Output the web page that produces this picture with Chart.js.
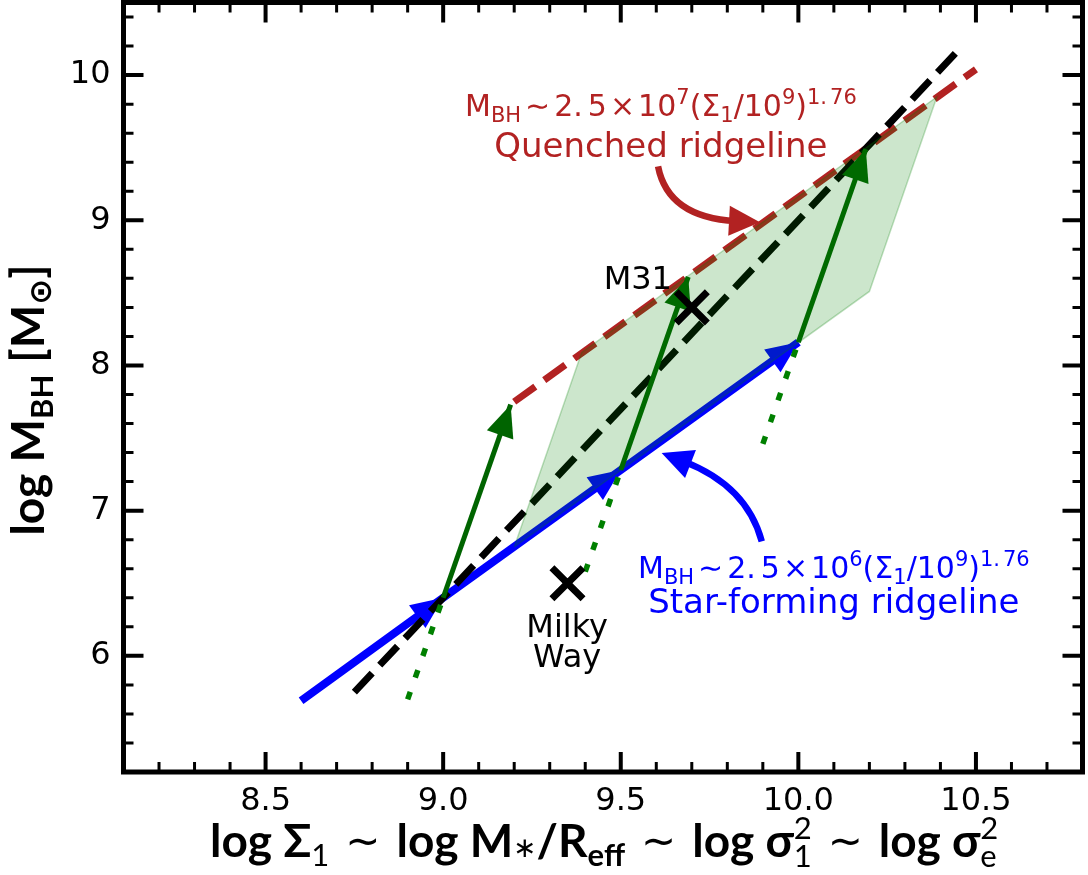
<!DOCTYPE html>
<html>
<head>
<meta charset="utf-8">
<script src="https://cdn.jsdelivr.net/npm/chart.js@4.4.1/dist/chart.umd.min.js"></script>
<style>
  html, body { margin: 0; padding: 0; background: #fff; }
  canvas { display: block; }
</style>
</head>
<body>
<canvas id="chart" width="1088" height="875"></canvas>
<script>
// log M_BH against log Sigma_1 ridgelines
const starFormingX = [8.6, 9.0, 9.5, 10.0];
const starFormingY = [5.69, 6.40, 7.28, 8.16];
const quenchedX = [9.2, 10.5];
const quenchedY = [7.75, 10.04];
const sigmaRelX = [8.75, 10.45];
const sigmaRelY = [5.75, 10.17];

// tracks from the star-forming ridge up to the quenched ridge
const trackTailX = [8.9, 9.4, 9.9];
const trackTailY = [5.70, 6.58, 7.46];
const trackStartX = [9.0, 9.5, 10.0];
const trackStartY = [6.40, 7.28, 8.16];
const trackEndX = [9.19, 9.69, 10.19];
const trackEndY = [7.73, 8.61, 9.49];

// band swept by the tracks
const bandX = [9.2, 10.2, 10.39, 9.39];
const bandY = [6.75, 8.51, 9.85, 8.09];

const galaxyNames = [['Milky', 'Way'], ['M31']];
const galaxyX = [9.35, 9.7];
const galaxyY = [6.5, 8.4];

const xTickValues = [8.5, 9.0, 9.5, 10.0, 10.5];
const yTickValues = [6, 7, 8, 9, 10];

const RED = '#b22222';
const BLUE = '#0000ff';
const DKGREEN = '#006400';
const GREEN = '#008000';

function pts(xs, ys) {
  return xs.map((x, i) => ({ x: x, y: ys[i] }));
}

function lineSet(data, color, width, dash, order, extra) {
  return Object.assign({
    data: data,
    showLine: true,
    borderColor: color,
    backgroundColor: color,
    borderWidth: width,
    borderDash: dash || [],
    borderCapStyle: 'butt',
    pointRadius: 0,
    pointHoverRadius: 0,
    fill: false,
    order: order
  }, extra || {});
}

// draw a run of text pieces (sub/superscripts, gaps) on one baseline
function drawRich(ctx, parts, x, y, align) {
  let w = 0;
  const widths = parts.map(p => {
    let pw;
    if (p.gap) {
      pw = p.gap;
    } else if (p.stack) {
      ctx.font = p.f;
      pw = Math.max(ctx.measureText(p.stack[0]).width, ctx.measureText(p.stack[1]).width);
    } else {
      ctx.font = p.f;
      pw = ctx.measureText(p.t).width;
    }
    w += pw;
    return pw;
  });
  let cx = align === 'center' ? x - w / 2 : (align === 'right' ? x - w : x);
  ctx.textAlign = 'left';
  ctx.textBaseline = 'alphabetic';
  parts.forEach((p, i) => {
    if (p.stack) {
      ctx.font = p.f;
      ctx.fillText(p.stack[0], cx, y + p.up);
      ctx.fillText(p.stack[1], cx, y + p.down);
    } else if (p.t) {
      ctx.font = p.f;
      ctx.fillText(p.t, cx, y + (p.dy || 0));
    }
    cx += widths[i];
  });
}

function ridgeFormula(exp) {
  const N = '30px "DejaVu Sans"';
  const S = '21px "DejaVu Sans"';
  return [
    { t: 'M', f: N }, { t: 'BH', f: S, dy: 6 }, { gap: 4 },
    { t: '\u223c', f: N }, { gap: 4 },
    { t: '2.', f: N }, { gap: 5 }, { t: '5', f: N }, { gap: 3 },
    { t: '\u00d7', f: N }, { gap: 3 },
    { t: '10', f: N }, { t: exp, f: S, dy: -12 },
    { t: '(\u03a3', f: N }, { t: '1', f: S, dy: 6 },
    { t: '/10', f: N }, { t: '9', f: S, dy: -12 },
    { t: ')', f: N }, { t: '1.', f: S, dy: -12 }, { gap: 3 }, { t: '76', f: S, dy: -12 }
  ];
}

function arrowHead(ctx, tipX, tipY, dirX, dirY, len, half, color) {
  const d = Math.hypot(dirX, dirY);
  const ux = dirX / d, uy = dirY / d;
  const bx = tipX - ux * len, by = tipY - uy * len;
  ctx.fillStyle = color;
  ctx.beginPath();
  ctx.moveTo(tipX, tipY);
  ctx.lineTo(bx - uy * half, by + ux * half);
  ctx.lineTo(bx + uy * half, by - ux * half);
  ctx.closePath();
  ctx.fill();
}

// arrowheads on line datasets, drawn right after their line
const headsPlugin = {
  id: 'heads',
  afterDatasetDraw(chart, args) {
    const ds = chart.data.datasets[args.index];
    if (!ds.headAt) return;
    const ctx = chart.ctx;
    const pts = args.meta.data;
    ctx.save();
    ds.headAt.forEach(i => {
      const p = pts[i], q = pts[i - 1];
      arrowHead(ctx, p.x, p.y, p.x - q.x, p.y - q.y, 32, 14, ds.borderColor);
    });
    ctx.restore();
  }
};

// frame, inward ticks, axis titles and annotations
const decorPlugin = {
  id: 'decor',
  afterDraw(chart) {
    const ctx = chart.ctx;
    const a = chart.chartArea;
    const sx = chart.scales.x, sy = chart.scales.y;
    const X = v => sx.getPixelForValue(v);
    const Y = v => sy.getPixelForValue(v);
    ctx.save();

    // curved pointer arrows
    function pointer(p0, c, tip, color) {
      const P0 = [X(p0[0]), Y(p0[1])], C = [X(c[0]), Y(c[1])], T = [X(tip[0]), Y(tip[1])];
      const dx = T[0] - C[0], dy = T[1] - C[1];
      const d = Math.hypot(dx, dy);
      const E = [T[0] - dx / d * 24, T[1] - dy / d * 24];
      ctx.strokeStyle = color;
      ctx.lineWidth = 6.5;
      ctx.lineCap = 'butt';
      ctx.beginPath();
      ctx.moveTo(P0[0], P0[1]);
      ctx.quadraticCurveTo(C[0], C[1], E[0], E[1]);
      ctx.stroke();
      arrowHead(ctx, T[0], T[1], dx, dy, 31, 15, color);
    }
    pointer([9.605, 9.372], [9.633, 9.02], [9.892, 8.986], RED);
    pointer([9.897, 6.788], [9.855, 7.17], [9.615, 7.398], BLUE);

    // ridgeline labels
    ctx.fillStyle = RED;
    drawRich(ctx, ridgeFormula('7'), X(9.613), Y(9.717), 'center');
    ctx.fillStyle = RED;
    ctx.font = '34px "DejaVu Sans"';
    ctx.textAlign = 'center';
    ctx.fillText('Quenched ridgeline', X(9.613), Y(9.434));
    ctx.fillStyle = BLUE;
    drawRich(ctx, ridgeFormula('6'), X(10.1), Y(6.538), 'center');
    ctx.fillStyle = BLUE;
    ctx.font = '34px "DejaVu Sans"';
    ctx.textAlign = 'center';
    ctx.fillText('Star-forming ridgeline', X(10.1), Y(6.297));

    // galaxy names
    ctx.fillStyle = '#000';
    ctx.font = '32px "DejaVu Sans"';
    ctx.textAlign = 'center';
    ctx.fillText(galaxyNames[0][0], X(9.349), Y(6.131));
    ctx.fillText(galaxyNames[0][1], X(9.349), Y(5.924));
    ctx.fillText(galaxyNames[1][0], X(9.548), Y(8.524));

    // frame
    ctx.strokeStyle = '#000';
    ctx.lineWidth = 5;
    ctx.lineCap = 'square';
    ctx.strokeRect(a.left, a.top, a.right - a.left, a.bottom - a.top);
    ctx.lineCap = 'butt';

    // ticks on all four sides, pointing in
    function tickX(v, len, w) {
      const px = X(v);
      ctx.lineWidth = w;
      ctx.beginPath();
      ctx.moveTo(px, a.bottom); ctx.lineTo(px, a.bottom - len);
      ctx.moveTo(px, a.top); ctx.lineTo(px, a.top + len);
      ctx.stroke();
    }
    function tickY(v, len, w) {
      const py = Y(v);
      ctx.lineWidth = w;
      ctx.beginPath();
      ctx.moveTo(a.left, py); ctx.lineTo(a.left + len, py);
      ctx.moveTo(a.right, py); ctx.lineTo(a.right - len, py);
      ctx.stroke();
    }
    for (let k = 82; k <= 107; k++) {
      const v = k / 10;
      if (xTickValues.some(t => Math.abs(t - v) < 1e-6)) tickX(v, 20, 4);
      else tickX(v, 10, 3);
    }
    for (let k = 27; k <= 52; k++) {
      const v = k / 5;
      if (yTickValues.some(t => Math.abs(t - v) < 1e-6)) tickY(v, 20, 4);
      else tickY(v, 10, 3);
    }

    // axis titles
    const B = 'bold 46px Lato, "DejaVu Sans"';
    const Bs = 'bold 31px Lato, "DejaVu Sans"';
    const Rs = '31px Lato, "DejaVu Sans"';
    const T = '42px "DejaVu Sans"';
    ctx.fillStyle = '#000';
    const sim = [{ gap: 16 }, { t: '\u223c', f: T, dy: -2 }, { gap: 16 }];
    drawRich(ctx, [
      { t: 'log \u03a3', f: B }, { t: '1', f: Rs, dy: 9 }
    ].concat(sim, [
      { t: 'log M', f: B }, { t: '\u2217', f: '28px "DejaVu Sans"', dy: 0 },
      { t: '/R', f: B }, { t: 'eff', f: Bs, dy: 9 }
    ], sim, [
      { t: 'log \u03c3', f: B }, { stack: ['2', '1'], f: Rs, up: -18, down: 10 }
    ], sim, [
      { t: 'log \u03c3', f: B }, { stack: ['2', 'e'], f: Rs, up: -18, down: 10 }
    ]), 210, 857, 'left');

    ctx.save();
    ctx.translate(44, 400);
    ctx.rotate(-Math.PI / 2);
    drawRich(ctx, [
      { t: 'log M', f: B }, { t: 'BH', f: Bs, dy: 9 }, { gap: 12 },
      { t: '[M', f: B }, { t: '\u2299', f: 'bold 31px "DejaVu Sans"', dy: 7 },
      { t: ']', f: B }
    ], 0, 0, 'center');
    ctx.restore();

    ctx.restore();
  }
};

// tick labels sit well inside the axis ends, so the scales need no end padding
function noPad(s) {
  s.paddingLeft = 0;
  s.paddingRight = 0;
  s.paddingTop = 0;
  s.paddingBottom = 0;
}

function build() {
  const datasets = [
    // galaxies
    {
      data: pts(galaxyX, galaxyY),
      pointStyle: 'crossRot',
      pointRadius: 22,
      pointHoverRadius: 22,
      borderWidth: 7,
      pointBorderWidth: 7,
      borderColor: '#000',
      backgroundColor: '#000',
      showLine: false,
      order: 0
    },
    // shaded band
    lineSet(pts(bandX.concat(bandX[0]), bandY.concat(bandY[0])), 'rgba(0,128,0,0.25)', 1.5, null, 1,
      { fill: 'shape', backgroundColor: 'rgba(0,128,0,0.2)' })
  ];
  trackStartX.forEach((x, i) => {
    datasets.push(lineSet(pts([x, trackEndX[i]], [trackStartY[i], trackEndY[i]]), DKGREEN, 5, null, 2,
      { headAt: [1] }));
    datasets.push(lineSet(pts([trackTailX[i], x], [trackTailY[i], trackStartY[i]]), GREEN, 5.5, [8, 15], 3));
  });
  datasets.push(lineSet(pts(sigmaRelX, sigmaRelY), '#000', 7, [26, 11], 4));
  datasets.push(lineSet(pts(quenchedX, quenchedY), RED, 7, [26, 11], 5));
  datasets.push(lineSet(pts(starFormingX, starFormingY), BLUE, 8, null, 6, { headAt: [1, 2, 3] }));

  new Chart(document.getElementById('chart'), {
    type: 'scatter',
    data: { datasets: datasets },
    options: {
      responsive: false,
      animation: false,
      devicePixelRatio: 1,
      layout: { autoPadding: false, padding: { left: 0, top: 2.5, right: 5.5, bottom: 0 } },
      plugins: {
        legend: { display: false },
        tooltip: { enabled: false }
      },
      events: [],
      scales: {
        x: {
          type: 'linear',
          min: 8.1,
          max: 10.8,
          grid: { display: false, drawTicks: false },
          border: { display: false },
          afterBuildTicks: s => { s.ticks = xTickValues.map(v => ({ value: v })); },
          afterFit: s => { s.height = 103; noPad(s); },
          ticks: {
            color: '#000',
            padding: 10,
            maxRotation: 0,
            font: { family: 'DejaVu Sans', size: 32 },
            callback: v => Number(v).toFixed(1)
          }
        },
        y: {
          type: 'linear',
          min: 5.2,
          max: 10.5,
          grid: { display: false, drawTicks: false },
          border: { display: false },
          afterBuildTicks: s => { s.ticks = yTickValues.map(v => ({ value: v })); },
          afterFit: s => { s.width = 123.5; noPad(s); },
          ticks: {
            color: '#000',
            padding: 13,
            font: { family: 'DejaVu Sans', size: 32 },
            callback: v => String(v)
          }
        }
      }
    },
    plugins: [headsPlugin, decorPlugin]
  });
}

Promise.all([
  document.fonts.load('bold 46px Lato'),
  document.fonts.load('31px Lato'),
  document.fonts.load('32px "DejaVu Sans"')
]).then(build, build);
</script>
</body>
</html>
